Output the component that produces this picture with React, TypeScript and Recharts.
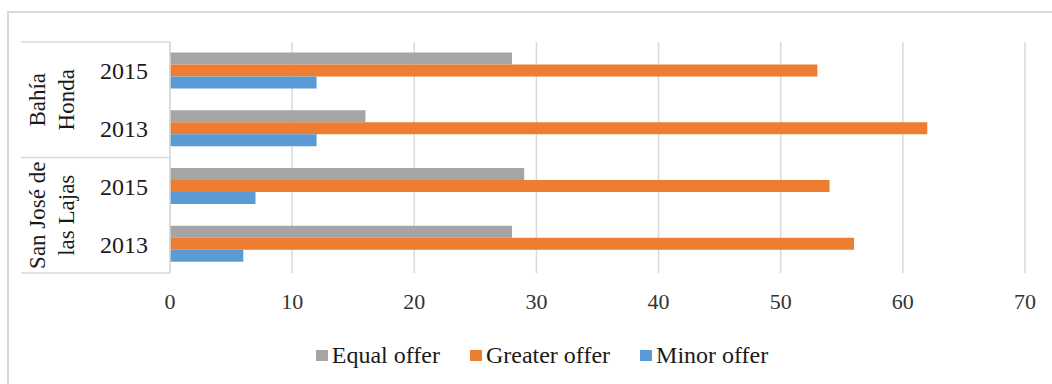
import React from 'react';
import { BarChart, Bar, XAxis, YAxis, CartesianGrid, Legend } from 'recharts';

const years = ['2015', '2013', '2015', '2013'];
const sites = ['Bahía Honda', 'Bahía Honda', 'San José de las Lajas', 'San José de las Lajas'];
const siteLines: Record<string, string[]> = {
  'Bahía Honda': ['Bahía', 'Honda'],
  'San José de las Lajas': ['San José de', 'las Lajas'],
};
const equalOffer = [28, 16, 29, 28];
const greaterOffer = [53, 62, 54, 56];
const minorOffer = [12, 12, 7, 6];
const xTicks = [0, 10, 20, 30, 40, 50, 60, 70];

const series = [
  { key: 'equal', name: 'Equal offer', color: '#A5A5A5' },
  { key: 'greater', name: 'Greater offer', color: '#ED7D31' },
  { key: 'minor', name: 'Minor offer', color: '#5B9BD5' },
];

const data = years.map((year, i) => ({
  key: `${sites[i]} ${year}`,
  year,
  site: sites[i],
  equal: equalOffer[i],
  greater: greaterOffer[i],
  minor: minorOffer[i],
}));

const W = 1052;
const H = 384;
const MARGIN = { top: 42, right: 27, bottom: 14, left: 0 };
const Y_AXIS_W = 170;
const X_AXIS_H = 67;
const LEGEND_H = 30;
const PLOT_H = H - MARGIN.top - MARGIN.bottom - X_AXIS_H - LEGEND_H;
const BAND = PLOT_H / data.length;

const FONT = 'Liberation Serif';
const GRID = '#D9D9D9';
const TEXT = '#1a1a1a';

// Two-level category axis: year per row, rotated site name per pair of rows
function CategoryTick(props: any) {
  const { x, y, index } = props;
  const row = data[index];
  const half = BAND / 2;
  const first = index === 0 || data[index - 1].site !== row.site;
  const last = index === data.length - 1;
  const groupMid = y + half;
  return (
    <g>
      <text x={x - 22} y={y} dy="0.35em" textAnchor="end" fontSize={24} fontFamily={FONT} fill={TEXT}>
        {row.year}
      </text>
      {first && (
        <g>
          <line x1={x - 149} x2={x} y1={y - half} y2={y - half} stroke={GRID} strokeWidth={1.5} />
          {siteLines[row.site].map((t, k) => (
            <text
              key={t}
              x={x - 125 + k * 29}
              y={groupMid}
              transform={`rotate(-90, ${x - 125 + k * 29}, ${groupMid})`}
              textAnchor="middle"
              fontSize={23}
              fontFamily={FONT}
              fill={TEXT}
            >
              {t}
            </text>
          ))}
        </g>
      )}
      {last && <line x1={x - 149} x2={x} y1={y + half} y2={y + half} stroke={GRID} strokeWidth={1.5} />}
    </g>
  );
}

function LegendContent() {
  return (
    <div
      style={{
        display: 'flex',
        justifyContent: 'center',
        alignItems: 'center',
        height: LEGEND_H,
        paddingLeft: 32,
        fontFamily: FONT,
        fontSize: 24,
        color: TEXT,
      }}
    >
      {series.map((s) => (
        <div key={s.key} style={{ display: 'flex', alignItems: 'center', margin: '0 15px' }}>
          <span style={{ width: 12, height: 11, background: s.color, marginRight: 4, display: 'inline-block' }} />
          <span>{s.name}</span>
        </div>
      ))}
    </div>
  );
}

export default function App() {
  return (
    <div style={{ position: 'absolute', left: 0, top: 0, width: W, height: H, overflow: 'hidden', background: '#fff' }}>
      <div
        style={{
          position: 'absolute',
          left: 7,
          top: 11,
          width: W + 20,
          height: H + 20,
          borderTop: `2px solid ${GRID}`,
          borderLeft: `2px solid ${GRID}`,
        }}
      />
      <div style={{ position: 'absolute', left: 0, top: 0 }}>
        <BarChart
          width={W}
          height={H}
          data={data}
          layout="vertical"
          margin={MARGIN}
          barCategoryGap="18%"
          barGap={0}
        >
          <CartesianGrid horizontal={false} stroke={GRID} strokeWidth={1.5} />
          <XAxis
            type="number"
            domain={[0, 70]}
            ticks={xTicks}
            height={X_AXIS_H}
            axisLine={false}
            tickLine={false}
            tickSize={0}
            tickMargin={20}
            tick={{ fontSize: 22, fontFamily: FONT, fill: '#333' }}
          />
          <YAxis
            type="category"
            dataKey="key"
            width={Y_AXIS_W}
            axisLine={{ stroke: GRID, strokeWidth: 1.5 }}
            tickLine={false}
            tickSize={0}
            tickMargin={0}
            tick={<CategoryTick />}
            interval={0}
          />
          <Legend verticalAlign="bottom" height={LEGEND_H} content={<LegendContent />} wrapperStyle={{ left: 0, width: W }} />
          {series.map((s) => (
            <Bar key={s.key} dataKey={s.key} name={s.name} fill={s.color} isAnimationActive={false} />
          ))}
        </BarChart>
      </div>
    </div>
  );
}
